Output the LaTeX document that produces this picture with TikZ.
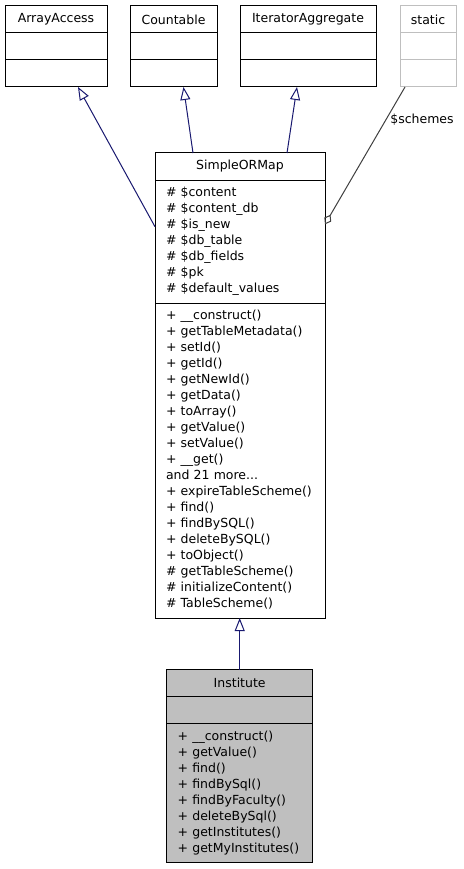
\documentclass[tikz,border=0pt]{standalone}
\usepackage{fontspec}
\usetikzlibrary{arrows.meta, positioning, calc}
\newfontfamily\umlfamily{DejaVu Sans}
\newcommand{\umlfont}{\umlfamily\fontsize{12.5}{16}\selectfont}
\definecolor{EdgeBlue}{HTML}{191970}
\definecolor{EdgeGray}{HTML}{404040}
\definecolor{ClassGray}{HTML}{BFBFBF}

\begin{document}
\begin{tikzpicture}[x=1pt, y=-1pt, line width=1pt,
        head/.style={rectangle, draw=black, fill=white, outer sep=0pt, inner sep=0pt, minimum height=27pt, font=\umlfont},
        body/.style={rectangle, draw=black, fill=white, outer sep=0pt, inner xsep=11pt, inner ysep=5.5pt, align=left, font=\umlfont,
            execute at begin node=\strut, execute at end node=\strut},
        inherit/.style={-{Triangle[open, length=13pt, width=10pt]}, EdgeBlue},
        member/.style={{Diamond[open, length=11pt, width=8pt]}-, EdgeGray}]

    \fill[white] (0,0) rectangle (463,869);

    % interfaces
    \node[head, minimum width=102pt] (aa) at (56,19.5) {ArrayAccess};
    \node[head, minimum width=102pt, below=0pt of aa] (aaattr) {};
    \node[head, minimum width=102pt, below=0pt of aaattr] (aameth) {};

    \node[head, minimum width=87pt] (cnt) at (173.5,19.5) {Countable};
    \node[head, minimum width=87pt, below=0pt of cnt] (cntattr) {};
    \node[head, minimum width=87pt, below=0pt of cntattr] (cntmeth) {};

    \node[head, minimum width=136pt] (ia) at (308,19.5) {IteratorAggregate};
    \node[head, minimum width=136pt, below=0pt of ia] (iaattr) {};
    \node[head, minimum width=136pt, below=0pt of iaattr] (iameth) {};

    \node[head, draw=ClassGray, minimum width=56pt] (st) at (428,19.5) {static};
    \node[head, draw=ClassGray, minimum width=56pt, below=0pt of st] (stattr) {};
    \node[head, draw=ClassGray, minimum width=56pt, below=0pt of stattr] (stmeth) {};

    % SimpleORMap
    \node[head, minimum width=170pt] (smap) at (240,166.5) {SimpleORMap};
    \node[body, text width=148pt, below=0pt of smap] (smapattr) {\# \$content\\\# \$content\_db\\\# \$is\_new\\\# \$db\_table\\\# \$db\_fields\\\# \$pk\\\# \$default\_values};
    \node[body, text width=148pt, below=0pt of smapattr] (smapmeth) {+ \_\_construct()\\+ getTableMetadata()\\+ setId()\\+ getId()\\+ getNewId()\\+ getData()\\+ toArray()\\+ getValue()\\+ setValue()\\+ \_\_get()\\and 21 more...\\+ expireTableScheme()\\+ find()\\+ findBySQL()\\+ deleteBySQL()\\+ toObject()\\\# getTableScheme()\\\# initializeContent()\\\# TableScheme()};

    % Institute
    \node[head, fill=ClassGray, minimum width=146pt] (inst) at (239.7,683.3) {Institute};
    \node[head, fill=ClassGray, minimum width=146pt, below=0pt of inst] (instattr) {};
    \node[body, fill=ClassGray, text width=124pt, below=0pt of instattr] (instmeth) {+ \_\_construct()\\+ getValue()\\+ find()\\+ findBySql()\\+ findByFaculty()\\+ deleteBySql()\\+ getInstitutes()\\+ getMyInstitutes()};

    \draw[inherit] ($(smapattr.north west)!0.38!(smapattr.south west)$) -- ([xshift=22pt]aameth.south);
    \draw[inherit] ([xshift=-47pt]smap.north) -- ([xshift=10pt]cntmeth.south);
    \draw[inherit] ([xshift=47pt]smap.north) -- ([xshift=-11pt]iameth.south);
    \draw[member] ($(smapattr.north east)!0.36!(smapattr.south east)$) -- node[pos=0.76, right, inner sep=4pt, text=black, font=\umlfont] (schemes) {\$schemes} ([xshift=-23pt]stmeth.south);
    \draw[inherit] (inst.north) -- (inst.north |- smapmeth.south);
\end{tikzpicture}
\end{document}
